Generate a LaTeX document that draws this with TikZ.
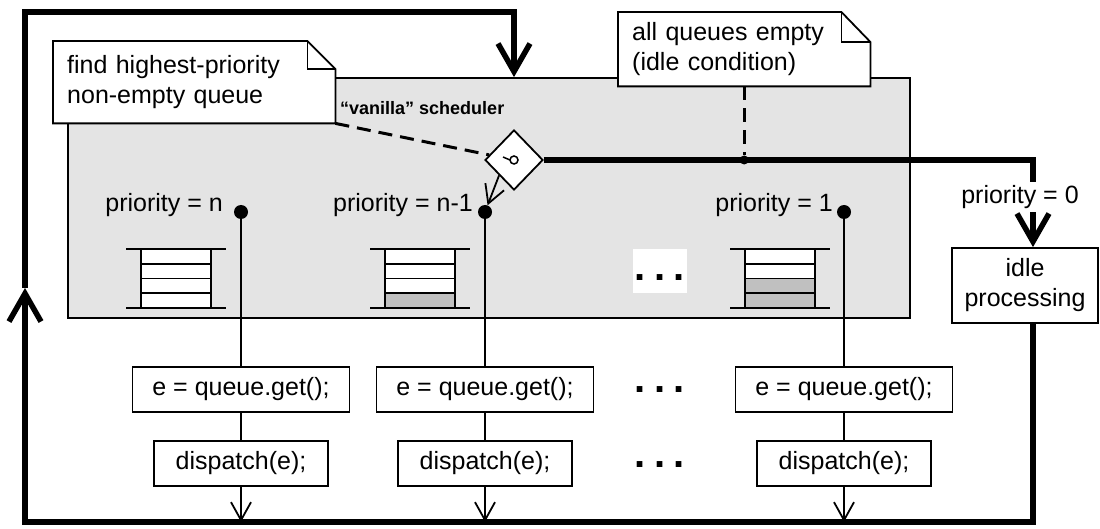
\documentclass[tikz,border=0pt]{standalone}
\usepackage{fontspec}
\setmainfont{Liberation Sans}
\usetikzlibrary{arrows.meta,shapes.geometric,calc}
\definecolor{schedgray}{HTML}{E4E4E4}
\definecolor{slotgray}{HTML}{C0C0C0}

% queue glyph: #1 = centre x, #2 = number of occupied (grey) slots
\newcommand\queueglyph[2]{%
  \foreach \k in {0,...,3}{%
    \pgfmathtruncatemacro\isfull{\k>=4-#2}%
    \ifnum\isfull=1 \def\slotfill{slotgray}\else\def\slotfill{white}\fi
    \filldraw[fill=\slotfill, line width=1.8pt]
      (#1-35,249+\k*14.75) rectangle (#1+35,249+\k*14.75+14.75);
  }%
  \draw[line width=1.8pt] (#1-50,249) -- (#1+50,249) (#1-50,308) -- (#1+50,308);
}

\begin{document}
\begin{tikzpicture}[x=1pt,y=-1pt,
  every node/.style={font=\fontsize{25}{30}\selectfont},
  box/.style={draw, line width=1.8pt, fill=white, inner sep=0pt, minimum height=45pt},
  getbox/.style={box, minimum width=217pt},
  dispbox/.style={box, minimum width=174pt},
  link/.style={line width=1.8pt},
  flow/.style={line width=5.5pt, line join=miter, line cap=butt},
  bigtip/.style={-{Straight Barb[length=28pt,width=32pt]}},
  smalltip/.style={-{Straight Barb[length=18pt,width=20pt]}},
  notebody/.style={fill=white, inner xsep=14pt, inner ysep=0pt, align=left, anchor=north west},
  noteedge/.style={line width=1.8pt, line join=miter},
  hint/.style={line width=3pt, dash pattern=on 14pt off 8pt},
  qdot/.style={circle, fill=black, inner sep=0pt, minimum size=14pt},
  junction/.style={circle, fill=black, inner sep=0pt, minimum size=9pt},
  prio/.style={anchor=east, inner sep=0pt},
  ellipsis/.style={font=\fontsize{40}{40}\selectfont\bfseries, inner sep=0pt},
]
\useasboundingbox (0,0) rectangle (1100,529);

% scheduler frame
\node[draw, line width=1.8pt, fill=schedgray, inner sep=0pt,
      minimum width=842pt, minimum height=240pt] (sched) at (489,198) {};
\node[font=\fontsize{18}{21}\selectfont\bfseries, anchor=west, inner sep=0pt] (title) at (340,108)
  {“vanilla” scheduler};

% priority queues
\queueglyph{176}{0}
\queueglyph{420}{1}
\queueglyph{780}{2}
\node[fill=white, inner sep=0pt, minimum width=54pt, minimum height=44pt] (gap) at (660,271) {};
\node[ellipsis] (moreq) at (660,278) {.\hspace{8.4pt}.\hspace{8.4pt}.};

% notes
\node[notebody, text width=254pt, minimum height=82pt] (n1) at (53,41)
  {find highest-priority\\non-empty queue};
\draw[noteedge] (n1.north west) -- ([xshift=-28pt]n1.north east)
  -- ([yshift=-28pt]n1.north east) -- (n1.south east) -- (n1.south west) -- cycle;
\draw[noteedge] ([xshift=-28pt]n1.north east) |- ([yshift=-28pt]n1.north east);

\node[notebody, text width=224pt, minimum height=74pt] (n2) at (618,12)
  {all queues empty\\(idle condition)};
\draw[noteedge] (n2.north west) -- ([xshift=-29pt]n2.north east)
  -- ([yshift=-30pt]n2.north east) -- (n2.south east) -- (n2.south west) -- cycle;
\draw[noteedge] ([xshift=-29pt]n2.north east) |- ([yshift=-30pt]n2.north east);

% choice point
\node[diamond, draw, line width=1.8pt, fill=white, inner sep=0pt,
      minimum width=58pt, minimum height=60pt] (choice) at (514,160) {};
\draw[line width=1.5pt] (choice.center) circle[radius=4pt];
\draw[line width=1.5pt] ([xshift=-4pt]choice.center) -- ([xshift=-11pt,yshift=3pt]choice.center);
\draw[hint] (n1.south east) -- (choice);

% idle branch
\coordinate (turn) at (1033,0);
\node[junction] (join) at (n2.south |- choice.east) {};
\draw[hint] (n2.south) -- (join);
\node[box, minimum width=146pt, minimum height=75pt, align=center] (idle) at (1025,285.5)
  {idle\\processing};
\draw[flow, bigtip] (choice.east) -- (choice.east -| turn) -- (turn |- idle.north);
\node[fill=white, inner sep=3pt] (p0) at (1020,197) {priority = 0};

% return loop
\coordinate (bl) at (25,522);
\coordinate (tl) at (25,12);
\coordinate (mid) at (25,288);
\draw[flow, bigtip] (turn |- idle.south) -- (turn |- bl) -- (bl) -- (mid);
\draw[flow, bigtip] (mid) -- (tl) -- (tl -| choice) -- (choice |- sched.north);

% queue heads
\node[qdot] (dn) at (241,212) {};
\node[qdot] (dn1) at (485,212) {};
\node[qdot] (d1) at (844,212) {};
\node[prio] (ln) at (223,205) {priority = n};
\node[prio] (ln1) at (473,205) {priority = n-1};
\node[prio] (l1) at (833,205) {priority = 1};
\draw[link, smalltip] (choice.south west) -- (dn1);

% event processing per queue
\node[getbox] (getn) at (241,389.5) {e = queue.get();};
\node[getbox] (getn1) at (485,389.5) {e = queue.get();};
\node[getbox] (get1) at (844,389.5) {e = queue.get();};
\node[dispbox] (dispn) at (241,463.5) {dispatch(e);};
\node[dispbox] (dispn1) at (485,463.5) {dispatch(e);};
\node[dispbox] (disp1) at (844,463.5) {dispatch(e);};
\node[ellipsis] (moreget) at (660,390) {.\hspace{8.4pt}.\hspace{8.4pt}.};
\node[ellipsis] (moredisp) at (660,465) {.\hspace{8.4pt}.\hspace{8.4pt}.};

\foreach \d/\g/\p in {dn/getn/dispn, dn1/getn1/dispn1, d1/get1/disp1}{
  \draw[link] (\d) -- (\g);
  \draw[link] (\g) -- (\p);
  \draw[link, smalltip] (\p) -- (\p |- bl);
}
\end{tikzpicture}
\end{document}
